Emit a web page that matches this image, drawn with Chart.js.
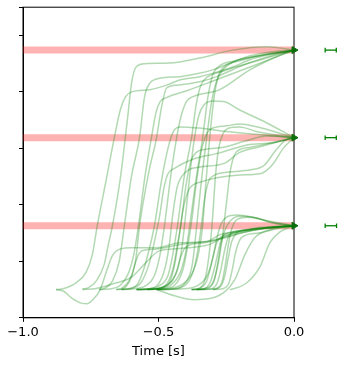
<!DOCTYPE html>
<html>
<head>
<meta charset="utf-8">
<script src="https://cdn.jsdelivr.net/npm/chart.js@4.4.1/dist/chart.umd.min.js"></script>
<style>
html,body{margin:0;padding:0;background:#fff}
#wrap{width:345px;height:365px}
</style>
</head>
<body>
<div id="wrap"><canvas id="chart"></canvas></div>
<script>
// ---------- data ----------
const targets = [4.74, 3.19, 1.63];          // pink reference levels (top, mid, low)
const errLow  = [0.115, 0.115, 0.115];        // error bar extents, right of the axes
const errHigh = [0.156, 0.156, 0.157];
const xTicks  = [-1.0, -0.5, 0.0];

// runs that settle on the top level
const topRuns = [
  [[-0.878,0.50],[-0.856,0.51],[-0.804,0.62],[-0.767,0.81],[-0.744,1.12],[-0.726,1.63],[-0.693,2.44],[-0.663,3.19],[-0.641,3.68],[-0.622,3.91],[-0.600,4.00],[-0.533,4.04],[-0.470,4.12],[-0.422,4.21],[-0.348,4.27],[-0.285,4.35],[-0.226,4.44],[-0.163,4.57],[-0.100,4.65],[0,4.74]],
  [[-0.781,0.51],[-0.760,0.53],[-0.730,0.65],[-0.700,0.95],[-0.685,1.30],[-0.670,1.63],[-0.640,2.50],[-0.615,3.50],[-0.598,4.20],[-0.581,4.45],[-0.550,4.50],[-0.459,4.51],[-0.348,4.60],[-0.226,4.74],[-0.100,4.80],[0,4.74]],
  [[-0.719,0.50],[-0.700,0.52],[-0.670,0.65],[-0.645,1.00],[-0.626,1.63],[-0.600,2.50],[-0.570,3.19],[-0.552,3.90],[-0.533,4.15],[-0.507,4.23],[-0.422,4.27],[-0.359,4.32],[-0.300,4.39],[-0.200,4.57],[-0.089,4.67],[0,4.74]],
  [[-0.656,0.50],[-0.637,0.52],[-0.610,0.65],[-0.585,1.00],[-0.570,1.63],[-0.535,2.60],[-0.507,3.19],[-0.490,3.70],[-0.470,4.07],[-0.433,4.12],[-0.348,4.18],[-0.285,4.27],[-0.200,4.45],[-0.100,4.62],[0,4.74]],
  [[-0.637,0.50],[-0.600,0.51],[-0.550,0.56],[-0.515,0.75],[-0.495,1.10],[-0.478,1.63],[-0.455,2.50],[-0.433,3.19],[-0.415,3.60],[-0.395,3.84],[-0.370,3.92],[-0.274,4.04],[-0.163,4.39],[-0.052,4.65],[0,4.74]],
  [[-0.581,0.50],[-0.550,0.51],[-0.500,0.56],[-0.465,0.75],[-0.448,1.10],[-0.430,1.63],[-0.405,2.50],[-0.378,3.19],[-0.360,3.80],[-0.345,4.10],[-0.330,4.22],[-0.260,4.37],[-0.144,4.54],[0,4.74]],
  [[-0.541,0.50],[-0.500,0.51],[-0.455,0.58],[-0.420,0.80],[-0.400,1.15],[-0.385,1.63],[-0.360,2.50],[-0.337,3.19],[-0.318,3.90],[-0.300,4.30],[-0.278,4.45],[-0.220,4.55],[-0.120,4.65],[0,4.74]],
  [[-0.507,0.50],[-0.460,0.52],[-0.410,0.60],[-0.370,0.85],[-0.350,1.20],[-0.337,1.63],[-0.325,2.40],[-0.311,3.19],[-0.295,3.90],[-0.278,4.30],[-0.256,4.45],[-0.200,4.55],[-0.089,4.68],[0,4.74]],
  [[-0.719,0.50],[-0.680,0.51],[-0.640,0.58],[-0.610,0.80],[-0.590,1.15],[-0.574,1.63],[-0.550,2.50],[-0.526,3.19],[-0.510,3.62],[-0.495,3.82],[-0.470,3.90],[-0.396,4.02],[-0.311,4.17],[-0.152,4.46],[0,4.74]],
  [[-0.507,0.50],[-0.450,0.51],[-0.400,0.62],[-0.375,0.95],[-0.359,1.63],[-0.340,2.50],[-0.322,3.19],[-0.305,3.80],[-0.285,4.20],[-0.260,4.40],[-0.200,4.58],[-0.100,4.70],[0,4.74]]
];

// runs that settle on the middle level
const midRuns = [
  [[-0.581,0.50],[-0.530,0.51],[-0.470,0.58],[-0.430,0.85],[-0.415,1.20],[-0.404,1.63],[-0.385,2.50],[-0.367,3.19],[-0.350,3.60],[-0.330,3.78],[-0.300,3.84],[-0.260,3.83],[-0.200,3.68],[-0.100,3.45],[0,3.19]],
  [[-0.637,0.50],[-0.600,0.52],[-0.565,0.62],[-0.535,0.95],[-0.515,1.35],[-0.496,1.80],[-0.480,2.30],[-0.465,2.55],[-0.440,2.65],[-0.378,2.80],[-0.274,2.92],[-0.174,3.06],[-0.078,3.10],[0,3.19]],
  [[-0.581,0.50],[-0.540,0.51],[-0.500,0.60],[-0.475,0.90],[-0.460,1.30],[-0.448,1.80],[-0.432,2.30],[-0.415,2.50],[-0.385,2.63],[-0.348,2.67],[-0.256,2.74],[-0.200,2.93],[-0.126,3.03],[0,3.19]],
  [[-0.541,0.50],[-0.500,0.52],[-0.460,0.62],[-0.440,0.95],[-0.425,1.40],[-0.410,1.90],[-0.390,2.25],[-0.370,2.36],[-0.348,2.40],[-0.285,2.48],[-0.200,2.53],[-0.126,2.55],[-0.078,2.72],[-0.040,3.00],[0,3.19]],
  [[-0.541,0.50],[-0.490,0.51],[-0.440,0.58],[-0.410,0.85],[-0.395,1.20],[-0.380,1.63],[-0.360,2.40],[-0.340,3.00],[-0.320,3.28],[-0.300,3.36],[-0.248,3.40],[-0.200,3.43],[-0.120,3.36],[0,3.19]],
  [[-0.581,0.50],[-0.520,0.51],[-0.470,0.60],[-0.445,0.90],[-0.430,1.30],[-0.418,1.63],[-0.400,2.30],[-0.380,2.78],[-0.360,2.93],[-0.330,2.98],[-0.260,3.02],[-0.180,3.13],[-0.100,3.22],[0,3.19]],
  [[-0.378,0.50],[-0.350,0.52],[-0.330,0.65],[-0.318,0.95],[-0.308,1.35],[-0.300,1.80],[-0.290,2.50],[-0.278,3.00],[-0.260,3.28],[-0.240,3.36],[-0.200,3.38],[-0.140,3.30],[-0.070,3.24],[0,3.19]],
  [[-0.359,0.50],[-0.330,0.52],[-0.300,0.62],[-0.280,0.95],[-0.265,1.40],[-0.250,2.00],[-0.235,2.60],[-0.220,2.88],[-0.200,2.98],[-0.160,3.02],[-0.100,3.08],[0,3.19]],
  [[-0.656,0.50],[-0.620,0.51],[-0.580,0.58],[-0.555,0.85],[-0.535,1.20],[-0.515,1.63],[-0.490,2.40],[-0.465,3.00],[-0.445,3.30],[-0.420,3.38],[-0.350,3.36],[-0.250,3.30],[-0.120,3.24],[0,3.19]],
  [[-0.507,0.50],[-0.450,0.51],[-0.400,0.58],[-0.370,0.85],[-0.355,1.20],[-0.342,1.63],[-0.330,2.10],[-0.315,2.42],[-0.295,2.52],[-0.240,2.58],[-0.160,2.62],[-0.110,2.70],[-0.070,2.95],[-0.030,3.15],[0,3.19]]
];

// runs that settle on the low level
const lowRuns = [
  [[-0.878,0.50],[-0.850,0.47],[-0.820,0.35],[-0.785,0.26],[-0.763,0.25],[-0.740,0.33],[-0.715,0.50],[-0.690,0.85],[-0.670,1.10],[-0.640,1.22],[-0.600,1.24],[-0.507,1.24],[-0.422,1.33],[-0.322,1.35],[-0.274,1.47],[-0.200,1.54],[-0.126,1.60],[0,1.63]],
  [[-0.507,0.50],[-0.441,0.39],[-0.367,0.32],[-0.311,0.34],[-0.256,0.46],[-0.219,0.67],[-0.181,1.12],[-0.144,1.42],[-0.089,1.56],[0,1.63]],
  [[-0.781,0.50],[-0.730,0.52],[-0.670,0.60],[-0.600,0.72],[-0.550,0.96],[-0.500,1.18],[-0.450,1.22],[-0.370,1.25],[-0.311,1.30],[-0.274,1.40],[-0.200,1.53],[-0.100,1.60],[0,1.63]],
  [[-0.378,0.50],[-0.350,0.52],[-0.325,0.62],[-0.310,0.85],[-0.298,1.10],[-0.285,1.33],[-0.270,1.43],[-0.240,1.48],[-0.160,1.55],[-0.080,1.60],[0,1.63]],
  [[-0.378,0.50],[-0.330,0.52],[-0.310,0.62],[-0.295,0.85],[-0.283,1.10],[-0.270,1.36],[-0.255,1.48],[-0.220,1.52],[-0.150,1.57],[0,1.63]],
  [[-0.359,0.50],[-0.320,0.52],[-0.295,0.65],[-0.282,0.95],[-0.270,1.30],[-0.255,1.55],[-0.235,1.72],[-0.200,1.80],[-0.150,1.78],[-0.080,1.68],[0,1.63]],
  [[-0.359,0.50],[-0.310,0.51],[-0.285,0.60],[-0.270,0.85],[-0.258,1.15],[-0.245,1.40],[-0.225,1.52],[-0.190,1.55],[-0.100,1.59],[0,1.63]],
  [[-0.300,0.50],[-0.280,0.53],[-0.265,0.65],[-0.253,0.95],[-0.242,1.30],[-0.228,1.60],[-0.210,1.74],[-0.170,1.78],[-0.100,1.72],[0,1.63]],
  [[-0.378,0.50],[-0.300,0.51],[-0.270,0.56],[-0.255,0.75],[-0.243,1.05],[-0.230,1.35],[-0.212,1.50],[-0.180,1.55],[-0.100,1.60],[0,1.63]],
  [[-0.237,0.50],[-0.226,0.51],[-0.174,0.62],[-0.126,0.90],[-0.089,1.33],[-0.052,1.52],[0,1.63]],
  [[-0.300,0.50],[-0.260,0.52],[-0.240,0.62],[-0.228,0.85],[-0.216,1.15],[-0.200,1.38],[-0.180,1.46],[-0.130,1.50],[-0.060,1.58],[0,1.63]],
  [[-0.581,0.50],[-0.520,0.51],[-0.460,0.60],[-0.435,0.80],[-0.420,1.05],[-0.405,1.22],[-0.380,1.30],[-0.330,1.33],[-0.250,1.42],[-0.180,1.52],[-0.080,1.60],[0,1.63]],
  [[-0.637,0.50],[-0.620,0.55],[-0.600,0.72],[-0.585,0.98],[-0.570,1.15],[-0.550,1.20],[-0.507,1.22],[-0.404,1.31],[-0.311,1.36],[-0.240,1.45],[-0.150,1.55],[0,1.63]],
  [[-0.507,0.50],[-0.420,0.51],[-0.360,0.56],[-0.320,0.75],[-0.300,1.05],[-0.285,1.40],[-0.270,1.65],[-0.250,1.78],[-0.210,1.82],[-0.150,1.78],[-0.070,1.68],[0,1.63]]
];

// ---------- styles ----------
const RUN_COLOR  = 'rgba(0,128,0,0.3)';
const BAND_COLOR = 'rgba(255,0,0,0.3)';
const MARK_COLOR = '#0a6e0a';
const ERR_COLOR  = '#008000';
const CAP_HALF = 0.04;   // half height of the error-bar caps, y units
const FONT = 'DejaVu Sans';

const pts = run => run.map(p => ({x: p[0], y: p[1]}));
const seg = (x0, y0, x1, y1) => ({
  data: [{x: x0, y: y0}, {x: x1, y: y1}],
  borderColor: ERR_COLOR, borderWidth: 1.3, borderCapStyle: 'butt',
  pointRadius: 0, clip: false, order: 0
});

// ---------- datasets ----------
const datasets = [];

// end markers at t = 0 (drawn on top)
datasets.push({
  data: targets.map(y => ({x: 0, y})),
  showLine: false, pointStyle: 'triangle', pointRotation: 90,
  pointRadius: 4, pointBackgroundColor: MARK_COLOR, pointBorderColor: MARK_COLOR,
  pointBorderWidth: 1, clip: false, order: 0
});

// error bars right of the axes: bar plus two caps
targets.forEach((y, i) => {
  datasets.push(seg(errLow[i], y, errHigh[i], y));
  datasets.push(seg(errLow[i], y - CAP_HALF, errLow[i], y + CAP_HALF));
  datasets.push(seg(errHigh[i], y - CAP_HALF, errHigh[i], y + CAP_HALF));
});

// trajectories
[topRuns, midRuns, lowRuns].forEach(group => group.forEach(run => {
  datasets.push({
    data: pts(run), borderColor: RUN_COLOR, borderWidth: 1.5,
    pointRadius: 0, cubicInterpolationMode: 'monotone', fill: false, order: 1
  });
}));

// thick pink reference bands (behind)
targets.forEach(y => {
  datasets.push({
    data: [{x: -1, y}, {x: 0, y}], borderColor: BAND_COLOR, borderWidth: 7,
    borderCapStyle: 'butt', pointRadius: 0, order: 5
  });
});

// frame (top + right spines)
const framePlugin = {
  id: 'frame',
  beforeDatasetsDraw(chart) {
    const {ctx, chartArea: a} = chart;
    ctx.save();
    ctx.strokeStyle = '#000';
    ctx.lineWidth = 1;
    ctx.strokeRect(a.left, a.top, a.right - a.left, a.bottom - a.top);
    ctx.restore();
  }
};

Chart.defaults.font.family = FONT;
Chart.defaults.color = '#000';

new Chart(document.getElementById('chart').getContext('2d'), {
  type: 'line',
  data: {datasets},
  options: {
    animation: false, responsive: true, maintainAspectRatio: false,
    layout: {padding: {left: 19, right: 51, top: 7, bottom: 0}},
    plugins: {legend: {display: false}, tooltip: {enabled: false}},
    scales: {
      x: {
        type: 'linear', min: -1, max: 0,
        afterBuildTicks: s => { s.ticks = xTicks.map(v => ({value: v})); },
        ticks: {
          font: {size: 13}, padding: 3, maxRotation: 0,
          callback: v => (v < 0 ? '\u2212' : '') + Math.abs(v).toFixed(1)
        },
        grid: {drawOnChartArea: false, drawTicks: true, tickLength: 4, color: '#000'},
        border: {display: true, color: '#000', width: 1},
        title: {display: true, text: 'Time [s]', font: {size: 13}, padding: {top: 0, bottom: 6}}
      },
      y: {
        type: 'linear', min: 0, max: 5.5,
        ticks: {stepSize: 1, padding: 0, callback: () => ''},
        grid: {drawOnChartArea: false, drawTicks: true, tickLength: 4, color: '#000'},
        border: {display: true, color: '#000', width: 1}
      }
    }
  },
  plugins: [framePlugin]
});
</script>
</body>
</html>
